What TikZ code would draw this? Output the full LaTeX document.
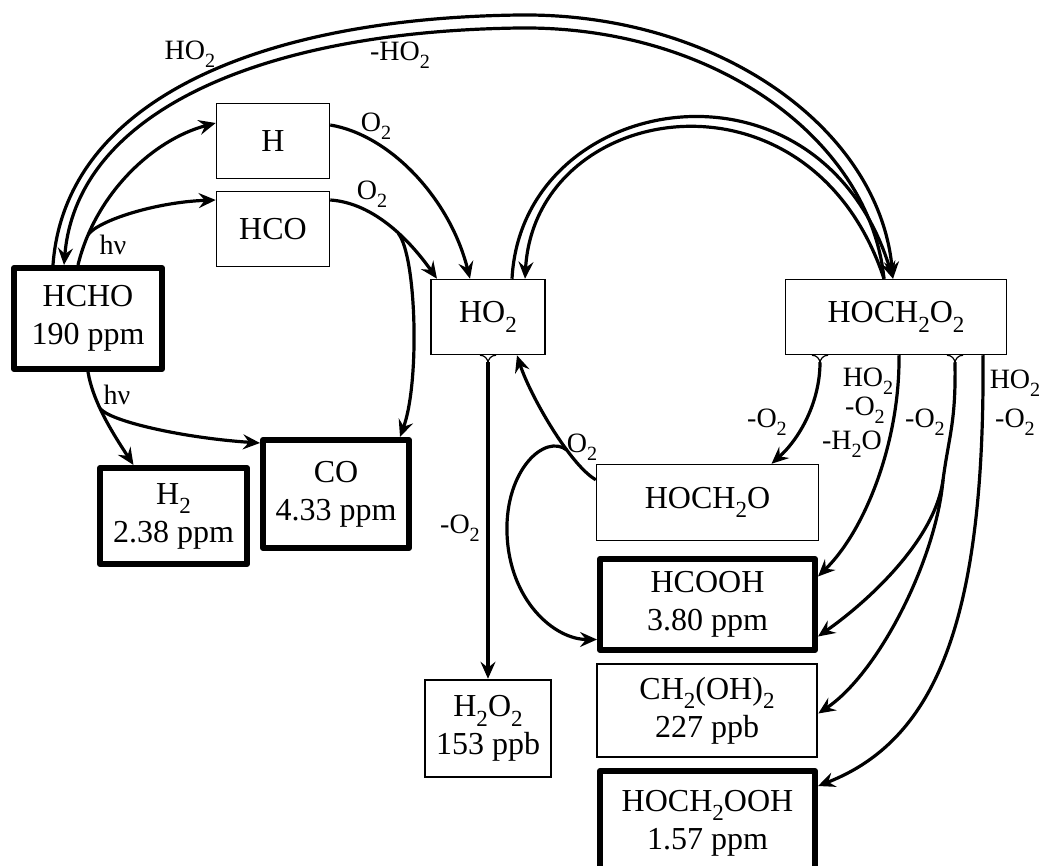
\documentclass[tikz,border=0pt]{standalone}
\usepackage{fontspec}
\setmainfont{Liberation Serif}
\usetikzlibrary{arrows.meta}

\newcommand{\boxfont}{\fontsize{32}{38}\selectfont}
\newcommand{\lblfont}{\fontsize{28}{30}\selectfont}
\newcommand{\two}{\raisebox{-.3em}{\scalebox{.72}{2}}}

\begin{document}
\begin{tikzpicture}[x=1pt,y=-1pt,>={Stealth[length=17pt,width=15pt,inset=6pt]},
	spec/.style={draw,line width=1.5pt,align=center,font=\boxfont,inner sep=0pt},
	prod/.style={spec,line width=6pt,line join=round},
	mid/.style={spec,line width=2.5pt},
	lbl/.style={font=\lblfont,inner sep=0pt},
	rxn/.style={->,line width=3.2pt},
	fork/.style={line width=1.2pt}]

\useasboundingbox (0,0) rectangle (1041,866);
\clip (0,0) rectangle (1041,866);

\node [spec,minimum width=113pt,minimum height=75pt] (H) at (273,141) {H};
\node [spec,minimum width=113pt,minimum height=75pt] (HCO) at (273,229) {HCO};
\node [prod,minimum width=148pt,minimum height=101pt] (HCHO) at (88,318.5) {HCHO\\190 ppm};
\node [spec,minimum width=114pt,minimum height=75pt] (HO2) at (488,317) {HO\two};
\node [spec,minimum width=221pt,minimum height=75pt] (HOCH2O2) at (896,317) {HOCH\two O\two};
\node [prod,minimum width=147pt,minimum height=96pt] (H2) at (173.5,516) {H\two\\2.38 ppm};
\node [prod,minimum width=146pt,minimum height=108pt] (CO) at (336,494) {CO\\4.33 ppm};
\node [spec,minimum width=222pt,minimum height=76pt] (HOCH2O) at (707.5,502.5) {HOCH\two O};
\node [prod,minimum width=215pt,minimum height=91pt] (HCOOH) at (707.5,604.5) {HCOOH\\3.80 ppm};
\node [mid,minimum width=220pt,minimum height=93pt] (CH2OH2) at (707,710.5) {CH\two(OH)\two\\227 ppb};
\node [prod,minimum width=215pt,minimum height=104pt] (HOCH2OOH) at (707.5,823) {HOCH\two OOH\\1.57 ppm};
\node [mid,minimum width=126pt,minimum height=97pt] (H2O2) at (488,728.5) {H\two O\two\\153 ppb};

\coordinate (f1) at (HO2.south);
\coordinate (f2) at ([xshift=-76pt]HOCH2O2.south);
\coordinate (f3) at ([xshift=59pt]HOCH2O2.south);
\coordinate (sp) at (943,480);

\foreach \f in {f1,f2,f3} {
	\draw [fork] ([xshift=-8pt]\f) .. controls +(5,0) and +(0,-4) .. ([yshift=-8pt]\f)
		.. controls +(0,-4) and +(-5,0) .. ([xshift=8pt]\f);
}

\draw [rxn] ([xshift=-10pt]HCHO.north) .. controls +(17,-70) and +(-64,17) .. ([yshift=18pt]H.west) coordinate[pos=.15] (up);
\draw [rxn] (up) .. controls +(10,-14) and +(-60,2) .. ([yshift=29pt]HCO.west);

\draw [rxn] ([xshift=-35pt]HCHO.north) .. controls (65,100) and (260,18) .. (520,15)
	.. controls (720,13) and (880,130) .. ([xshift=-3pt]HOCH2O2.north);
\draw [rxn] ([xshift=-12pt]HOCH2O2.north) .. controls (870,140) and (715,26) .. (520,28)
	.. controls (265,31) and (77,110) .. ([xshift=-24pt]HCHO.north);

\draw [rxn] ([xshift=24pt]HO2.north) .. controls (522,90) and (820,40) .. ([xshift=-3pt]HOCH2O2.north);
\draw [rxn] ([xshift=-12pt]HOCH2O2.north) .. controls (810,55) and (535,100) .. ([xshift=37pt]HO2.north);

\draw [rxn] ([yshift=16pt]H.east) .. controls +(60,10) and +(-20,-80) .. ([xshift=-18pt]HO2.north);
\draw [rxn] ([yshift=29pt]HCO.east) .. controls +(44,3) and +(-27,-38) .. ([xshift=-51pt]HO2.north) coordinate[pos=.58] (co);
\draw [rxn] (co) .. controls +(18,23) and +(20,-55) .. ([xshift=64pt]CO.north);

\draw [rxn] (HCHO.south) .. controls +(5,30) and +(-21,-32) .. ([xshift=-40pt]H2.north) coordinate[pos=.4] (dn);
\draw [rxn] (dn) .. controls +(10,13) and +(-76,-5) .. ([yshift=51pt]CO.west);

\draw [rxn] ([yshift=-7pt]f1) -- (H2O2.north);

\draw [rxn] ([yshift=-16pt]HOCH2O.north west) .. controls +(-26,-15) and +(13,40) .. ([xshift=29pt]HO2.south) coordinate[pos=.33] (lp);
\draw [rxn] (lp) .. controls +(-22,-17) and +(-2,-63) .. (507,533)
	.. controls +(2,67) and +(-43,0) .. ([yshift=-35pt]HCOOH.west);

\draw [rxn] ([yshift=-7pt]f2) .. controls +(0,40) and +(28,-25) .. ([xshift=64pt]HOCH2O.north);
\draw [rxn] ([xshift=3pt]HOCH2O2.south) .. controls +(1,85) and +(48,-47) .. ([yshift=28pt]HCOOH.east);
\draw [line width=3.2pt] ([yshift=-7pt]f3) .. controls +(1,60) and +(6,-45) .. (sp);
\draw [rxn] (sp) .. controls +(-8,60) and +(50,-35) .. ([yshift=-32pt]HCOOH.east);
\draw [rxn] (sp) .. controls +(-7,80) and +(60,-40) .. ([yshift=-3pt]CH2OH2.east);
\draw [rxn] ([xshift=87pt]HOCH2O2.south) .. controls +(2,265) and +(118,-46) .. ([yshift=37pt]HOCH2OOH.east);

\node [lbl] (lHO2) at (190,54) {HO\two};
\node [lbl] (lmHO2) at (400,55) {-HO\two};
\node [lbl] (hv1) at (113,245) {hν};
\node [lbl] (lO2a) at (376,126) {O\two};
\node [lbl] (lO2b) at (372,194) {O\two};
\node [lbl] (hv2) at (117,395) {hν};
\node [lbl] (lmO2a) at (460,528) {-O\two};
\node [lbl] (lO2c) at (582,447) {O\two};
\node [lbl] (lmO2b) at (767,422) {-O\two};
\node [lbl] (lHO2b) at (868,381) {HO\two};
\node [lbl] (lmO2c) at (865,410) {-O\two};
\node [lbl] (lmH2O) at (852,444) {-H\two O};
\node [lbl] (lmO2d) at (925,422) {-O\two};
\node [lbl] (lHO2c) at (1015,383) {HO\two};
\node [lbl] (lmO2e) at (1015,422) {-O\two};

\end{tikzpicture}
\end{document}
